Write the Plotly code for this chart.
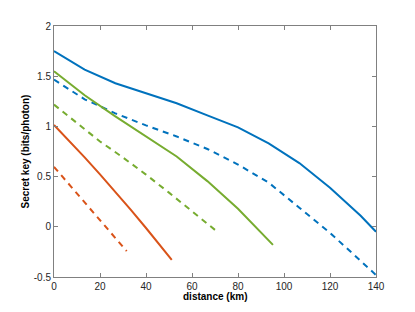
import plotly.graph_objects as go

# distances (km) and secret key rates (bits/photon)
x_blue = [0, 13.33, 26.67, 40, 53.33, 66.67, 80, 93.33, 106.67, 120, 133.33, 140]
y_blue_solid = [1.751, 1.565, 1.43, 1.33, 1.23, 1.11, 0.99, 0.83, 0.635, 0.39, 0.11, -0.05]
y_blue_dash = [1.466, 1.27, 1.13, 1.01, 0.90, 0.775, 0.62, 0.44, 0.19, -0.06, -0.34, -0.48]

x_green_solid = [0, 13.33, 26.67, 40, 53.33, 66.67, 80, 95.2]
y_green_solid = [1.55, 1.31, 1.10, 0.90, 0.70, 0.455, 0.18, -0.18]

x_green_dash = [0, 10, 20, 30, 40, 50, 60, 70.5]
y_green_dash = [1.217, 1.03, 0.85, 0.69, 0.52, 0.34, 0.15, -0.04]

x_red_solid = [0, 6.67, 13.33, 20, 26.67, 33.33, 40, 46.67, 51.2]
y_red_solid = [1.014, 0.855, 0.691, 0.522, 0.349, 0.171, -0.012, -0.20, -0.33]

x_red_dash = [0, 10, 17.1, 20, 31.6]
y_red_dash = [0.597, 0.332, 0.135, 0.062, -0.242]

x_ticks = [0, 20, 40, 60, 80, 100, 120, 140]
y_ticks = [-0.5, 0, 0.5, 1, 1.5, 2]
y_tick_text = ["-0.5", "0", "0.5", "1", "1.5", "2"]

BLUE = "#0072BD"
RED = "#D95319"
GREEN = "#77AC30"
W = 2
DASH = "6px,5px"

fig = go.Figure()
series = [
    (x_blue, y_blue_solid, BLUE, "solid"),
    (x_blue, y_blue_dash, BLUE, DASH),
    (x_green_solid, y_green_solid, GREEN, "solid"),
    (x_green_dash, y_green_dash, GREEN, DASH),
    (x_red_solid, y_red_solid, RED, "solid"),
    (x_red_dash, y_red_dash, RED, DASH),
]
for xs, ys, c, d in series:
    fig.add_trace(go.Scatter(x=xs, y=ys, mode="lines",
                             line=dict(color=c, width=W, dash=d),
                             showlegend=False, hoverinfo="skip"))

axis_common = dict(showgrid=False, zeroline=False, showline=True,
                   linecolor="#808080", linewidth=1, mirror="ticks",
                   ticks="inside", ticklen=4, tickcolor="#808080",
                   tickfont=dict(family="Liberation Sans, Arial", size=10, color="#262626"))

# page body has an 8px default margin: figure is 399x296 placed at (8,8)
fig.update_layout(
    width=399, height=296,
    margin=dict(l=46, r=31, t=15, b=27),
    paper_bgcolor="white", plot_bgcolor="white",
    xaxis=dict(range=[0, 140], tickvals=x_ticks, **axis_common),
    yaxis=dict(range=[-0.5, 2], tickvals=y_ticks, ticktext=y_tick_text, **axis_common),
    annotations=[
        dict(text="<b>distance (km)</b>", xref="paper", yref="paper",
             x=0.5, y=-0.076, xanchor="center", yanchor="middle", showarrow=False,
             font=dict(family="Liberation Sans, Arial", size=10, color="#000000")),
        dict(text="<b>Secret key (bits/photon)</b>", xref="paper", yref="paper",
             x=-0.09, y=0.5, xanchor="center", yanchor="middle", showarrow=False,
             textangle=-90,
             font=dict(family="Liberation Sans, Arial", size=10, color="#000000")),
    ],
)

fig.write_html("out.html")
